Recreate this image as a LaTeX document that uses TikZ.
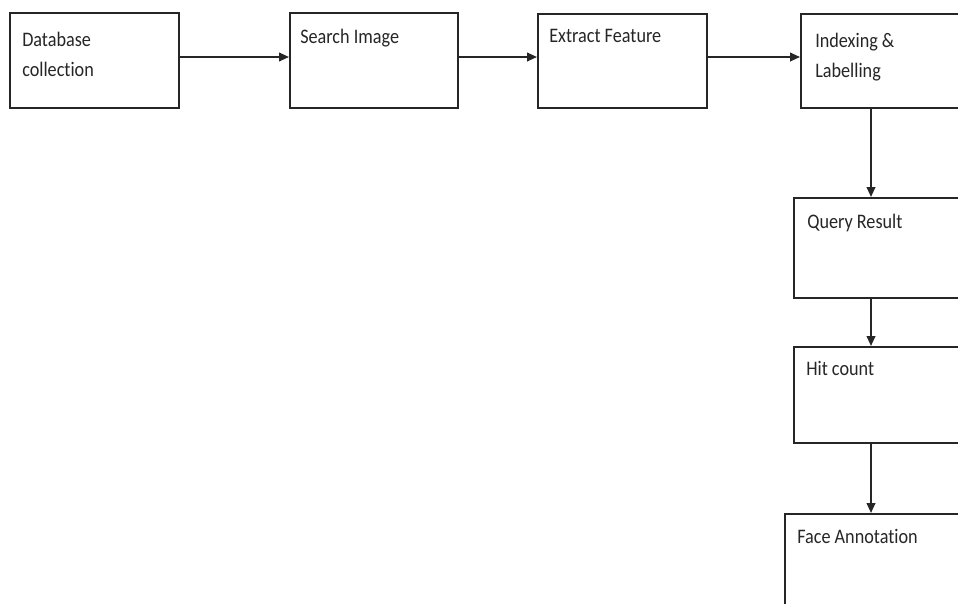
\documentclass[tikz,border=0pt]{standalone}
\usepackage{fontspec}
\setmainfont{Carlito}[FakeStretch=0.88,Ligatures=NoCommon]
\usetikzlibrary{arrows.meta}

\tikzset{
  box/.style={draw=black!85, line width=1.4pt, inner sep=0pt, anchor=north west},
  txt/.style={anchor=base west, inner sep=0pt, align=left, text=black!85,
    font=\fontsize{15.5}{22.5}\selectfont},
  arr/.style={-{Triangle[length=7.5pt,width=6.5pt]}, line width=1.4pt, draw=black!85}
}

\begin{document}
\begin{tikzpicture}[x=0.75pt,y=-0.75pt]
  \useasboundingbox (0,0) rectangle (958,604);
  \clip (0,0) rectangle (958,604);
  % boxes
  \node[box, minimum width=126.75pt, minimum height=71.25pt] (db) at (9,12) {};
  \node[box, minimum width=126pt, minimum height=71.25pt] (search) at (289,12) {};
  \node[box, minimum width=126.75pt, minimum height=70.5pt] (extract) at (537,13) {};
  \node[box, minimum width=150pt, minimum height=70.5pt] (index) at (800,13) {};
  \node[box, minimum width=155.25pt, minimum height=75pt] (query) at (793,197) {};
  \node[box, minimum width=155.25pt, minimum height=72pt] (hit) at (793,346) {};
  \node[box, minimum width=162pt, minimum height=97.5pt] (face) at (784,513) {};
  % texts (base of a two-line node sits on its last line)
  \node[txt] (db-t) at ([shift={(13,64)}]db.north west) {Database\\collection};
  \node[txt] (search-t) at ([shift={(11,31)}]search.north west) {Search Image};
  \node[txt] (extract-t) at ([shift={(12,29)}]extract.north west) {Extract Feature};
  \node[txt] (index-t) at ([shift={(15,64)}]index.north west) {Indexing \&\\Labelling};
  \node[txt] (query-t) at ([shift={(14,31)}]query.north west) {Query Result};
  \node[txt] (hit-t) at ([shift={(13,29)}]hit.north west) {Hit count};
  \node[txt] (face-t) at ([shift={(13,30)}]face.north west) {Face Annotation};
  % connectors
  \coordinate (col) at (871,0);
  \coordinate (row) at (0,57);
  \draw[arr] (db.east |- row) -- (search.west |- row);
  \draw[arr] (search.east |- row) -- (extract.west |- row);
  \draw[arr] (extract.east |- row) -- (index.west |- row);
  \draw[arr] (index.south -| col) -- (query.north -| col);
  \draw[arr] (query.south -| col) -- (hit.north -| col);
  \draw[arr] (hit.south -| col) -- (face.north -| col);
\end{tikzpicture}
\end{document}
